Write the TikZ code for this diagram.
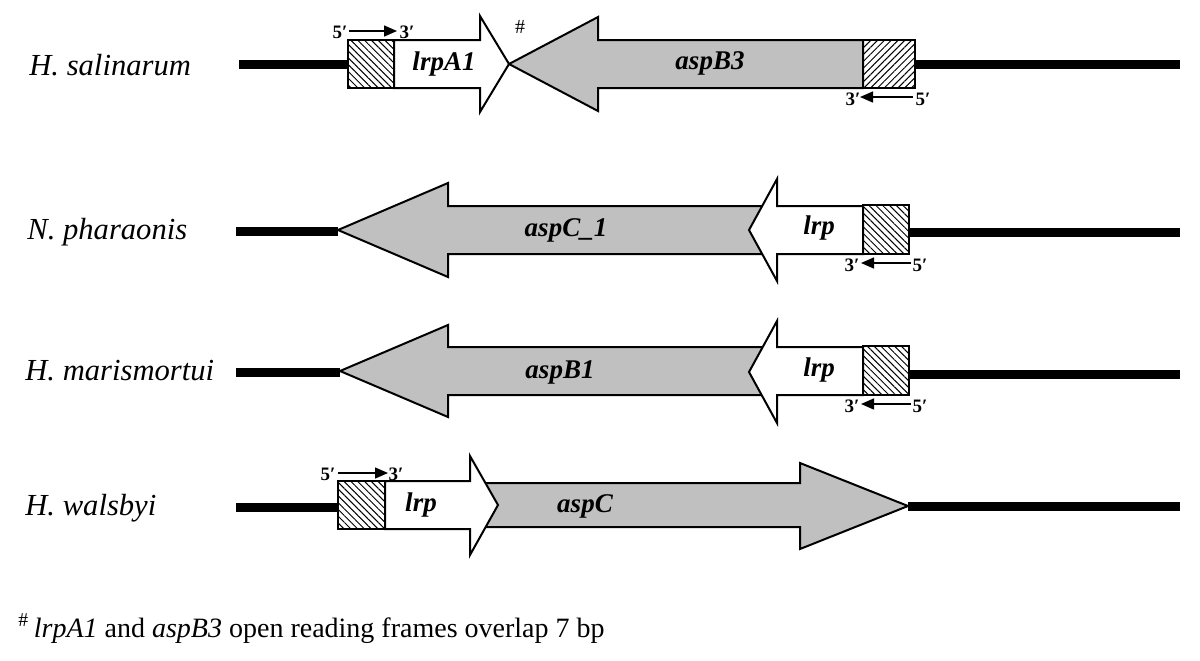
\documentclass[tikz,border=0pt]{standalone}
\usepackage{fontspec}
\setmainfont{Liberation Serif}
\usetikzlibrary{patterns.meta,arrows.meta}
\definecolor{genegray}{RGB}{192,192,192}
\begin{document}
\begin{tikzpicture}[x=0.5pt,y=-0.5pt,
  chrom/.style={line width=4.5pt,black},
  graygene/.style={draw=black,line width=1pt,fill=genegray,line join=miter},
  whitegene/.style={draw=black,line width=1pt,fill=white,line join=miter},
  promNW/.style={draw=black,line width=1pt,pattern={Lines[angle=-45,distance=2.4pt,line width=0.5pt]}},
  promNE/.style={draw=black,line width=1pt,pattern={Lines[angle=45,distance=2.4pt,line width=0.5pt]}},
  species/.style={font=\fontsize{15.3}{17}\selectfont\itshape,anchor=base west,inner sep=0pt},
  genelab/.style={font=\fontsize{13.5}{15}\selectfont\bfseries\itshape,inner sep=0pt},
  primelab/.style={font=\fontsize{9.5}{10}\selectfont\bfseries,inner sep=0pt},
  dirarrow/.style={line width=0.75pt,-{Triangle[length=6.5pt,width=5.5pt]}}
]
\useasboundingbox (0,0) rectangle (1200,660);

% ---------- Row 1: H. salinarum ----------
\node[species] (sp1) at (29,75) {H. salinarum};
\draw[chrom] (239,64) -- (348,64);
\draw[chrom] (915,64) -- (1180,64);
\draw[graygene] (863,40) -- (598,40) -- (598,17) -- (509,64) -- (598,111) -- (598,88) -- (863,88) -- cycle;
\draw[whitegene] (394,40) -- (480,40) -- (480,16) -- (509,64) -- (480,112) -- (480,88) -- (394,88) -- cycle;
\draw[promNW] (348,40) rectangle (394,88);
\draw[promNE] (863,40) rectangle (915,88);
\node[genelab] (g1a) at (444,64) {lrpA1};
\node[genelab] (g1b) at (710,63) {aspB3};
\node[font=\fontsize{10}{11}\selectfont,inner sep=0pt] (hash) at (520,27) {\#};
\node[primelab] (p1a) at (340,32) {5′};
\node[primelab] (p1b) at (407,32) {3′};
\coordinate (a1s) at (349,31);
\coordinate (a1e) at (397,31);
\draw[dirarrow] (a1s) -- (a1e);
\node[primelab] (p1c) at (853,99) {3′};
\node[primelab] (p1d) at (923,99) {5′};
\coordinate (a1t) at (913,97);
\coordinate (a1u) at (860,97);
\draw[dirarrow] (a1t) -- (a1u);

% ---------- Row 2: N. pharaonis ----------
\node[species] (sp2) at (27,239) {N. pharaonis};
\draw[chrom] (236,231) -- (338,231);
\draw[chrom] (909,232) -- (1180,232);
\draw[graygene] (777,206) -- (448,206) -- (448,183) -- (338,230) -- (448,277) -- (448,254) -- (777,254) -- cycle;
\draw[whitegene] (863,206) -- (777,206) -- (777,179) -- (749,230) -- (777,281) -- (777,254) -- (863,254) -- cycle;
\draw[promNW] (863,205) rectangle (909,254);
\node[genelab] (g2a) at (566,230) {aspC\_1};
\node[genelab] (g2b) at (819,228) {lrp};
\node[primelab] (p2a) at (852,265) {3′};
\node[primelab] (p2b) at (920,265) {5′};
\coordinate (a2s) at (911,263);
\coordinate (a2e) at (861,263);
\draw[dirarrow] (a2s) -- (a2e);

% ---------- Row 3: H. marismortui ----------
\node[species] (sp3) at (25,380) {H. marismortui};
\draw[chrom] (236,372) -- (340,372);
\draw[chrom] (909,374) -- (1180,374);
\draw[graygene] (777,347) -- (448,347) -- (448,325) -- (340,371) -- (448,417) -- (448,395) -- (777,395) -- cycle;
\draw[whitegene] (863,347) -- (777,347) -- (777,321) -- (749,372) -- (777,423) -- (777,395) -- (863,395) -- cycle;
\draw[promNW] (863,346) rectangle (909,395);
\node[genelab] (g3a) at (560,372) {aspB1};
\node[genelab] (g3b) at (819,370) {lrp};
\node[primelab] (p3a) at (852,406) {3′};
\node[primelab] (p3b) at (920,406) {5′};
\coordinate (a3s) at (911,404);
\coordinate (a3e) at (861,404);
\draw[dirarrow] (a3s) -- (a3e);

% ---------- Row 4: H. walsbyi ----------
\node[species] (sp4) at (25,515) {H. walsbyi};
\draw[chrom] (236,507) -- (338,507);
\draw[chrom] (908,506) -- (1180,506);
\draw[graygene] (470,483) -- (800,483) -- (800,463) -- (908,506) -- (800,549) -- (800,527) -- (470,527) -- cycle;
\draw[whitegene] (385,481) -- (470,481) -- (470,456) -- (498,505) -- (470,555) -- (470,529) -- (385,529) -- cycle;
\draw[promNW] (338,481) rectangle (385,529);
\node[genelab] (g4a) at (421,505) {lrp};
\node[genelab] (g4b) at (585,506) {aspC};
\node[primelab] (p4a) at (328,474) {5′};
\node[primelab] (p4b) at (396,474) {3′};
\coordinate (a4s) at (338,473);
\coordinate (a4e) at (388,473);
\draw[dirarrow] (a4s) -- (a4e);

% ---------- Footnote ----------
\node[anchor=base west,inner sep=0pt,font=\fontsize{14}{16}\selectfont] (foot) at (18,637)
  {\textsuperscript{\#}\,\textit{lrpA1} and \textit{aspB3} open reading frames overlap 7 bp};
\end{tikzpicture}
\end{document}
